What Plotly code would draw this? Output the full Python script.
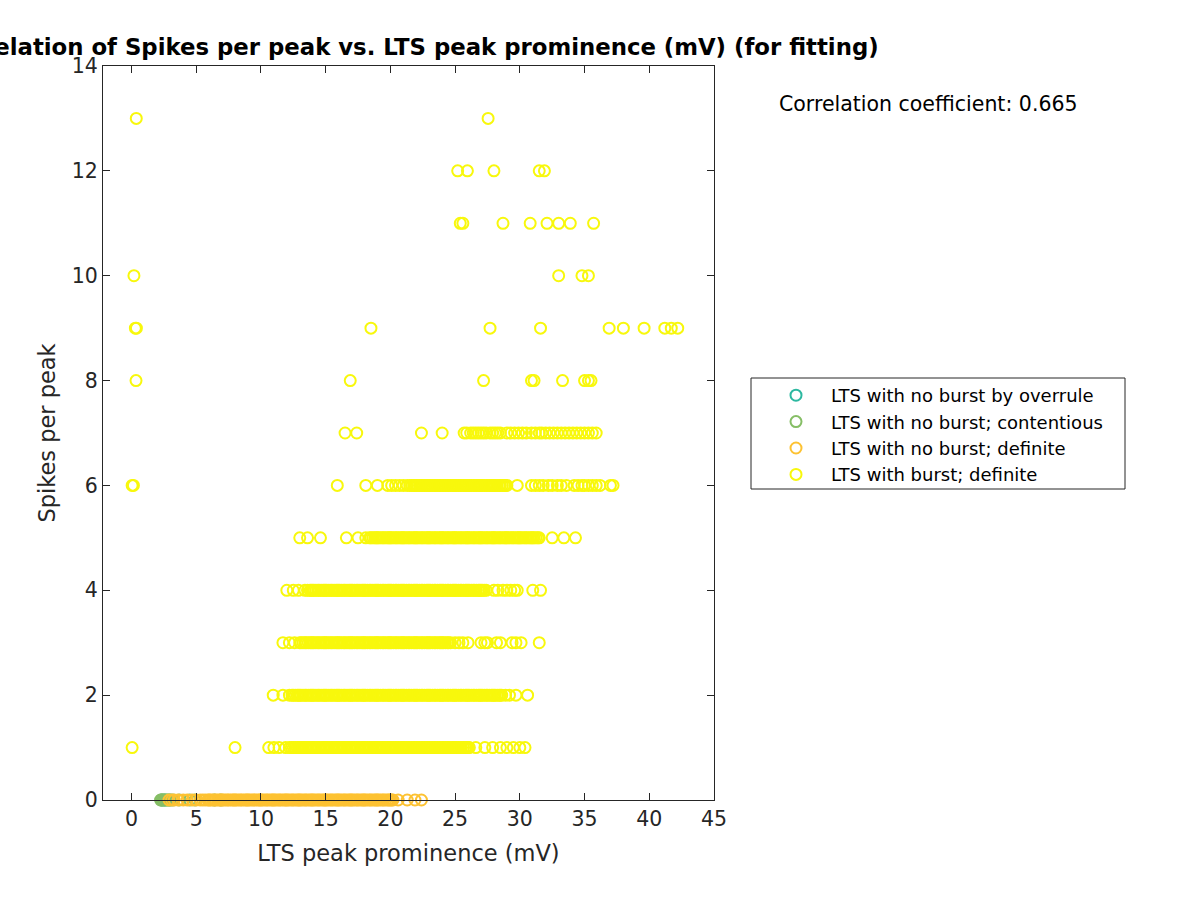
import plotly.graph_objects as go

# ---------------- data ----------------
# LTS with no burst by overrule (all at 0 spikes per peak)
overrule_x = [2.35, 2.55, 3.0]
# LTS with no burst; contentious (0 spikes per peak)
contentious_x = [2.25, 2.3, 2.4, 2.5, 2.6, 2.7, 2.8, 2.9, 3.2, 3.7, 4.5, 4.9, 6.4, 6.9]
# LTS with no burst; definite (0 spikes per peak)
nodef_x = [2.9, 3.1, 3.3, 3.6, 4.0, 4.3, 4.7, 5.0, 5.3, 5.5, 5.7, 5.9, 6.0, 6.1, 6.25, 6.4, 6.5, 6.65, 6.8, 6.9,
           7.0, 7.1, 7.25, 7.4, 7.5, 7.65, 7.8, 7.9, 8.0, 8.1, 8.25, 8.4, 8.5, 8.65, 8.8, 8.9,
           9.0, 9.1, 9.25, 9.4, 9.5, 9.65, 9.8, 9.9, 10.0, 10.1, 10.25, 10.4, 10.5, 10.65, 10.8, 10.9,
           11.0, 11.1, 11.25, 11.4, 11.5, 11.65, 11.8, 11.9, 12.0, 12.1, 12.25, 12.4, 12.5, 12.65, 12.8, 12.9,
           13.0, 13.1, 13.25, 13.4, 13.5, 13.65, 13.8, 13.9, 14.0, 14.1, 14.25, 14.4, 14.5, 14.65, 14.8, 14.9,
           15.0, 15.1, 15.25, 15.4, 15.5, 15.65, 15.8, 15.9, 16.0, 16.1, 16.25, 16.4, 16.5, 16.65, 16.8, 16.9,
           17.0, 17.1, 17.25, 17.4, 17.5, 17.65, 17.8, 17.9, 18.0, 18.1, 18.25, 18.4, 18.5, 18.65, 18.8, 18.9,
           19.0, 19.1, 19.25, 19.4, 19.5, 19.65, 19.8, 19.9, 20.0, 20.1, 20.2, 20.6, 21.3, 21.9, 22.4]

# LTS with burst; definite -- prominence values for each spikes-per-peak level
burst_x_1 = [0.05, 8.0, 10.6, 11.0, 11.4, 11.9, 12.2, 12.35, 12.5, 12.65, 12.8, 12.9,
             13.0, 13.1, 13.25, 13.4, 13.5, 13.65, 13.8, 13.9, 14.0, 14.1, 14.25, 14.4, 14.5, 14.65, 14.8, 14.9,
             15.0, 15.1, 15.25, 15.4, 15.5, 15.65, 15.8, 15.9, 16.0, 16.1, 16.25, 16.4, 16.5, 16.65, 16.8, 16.9,
             17.0, 17.1, 17.25, 17.4, 17.5, 17.65, 17.8, 17.9, 18.0, 18.1, 18.25, 18.4, 18.5, 18.65, 18.8, 18.9,
             19.0, 19.1, 19.25, 19.4, 19.5, 19.65, 19.8, 19.9, 20.0, 20.1, 20.25, 20.4, 20.5, 20.65, 20.8, 20.9,
             21.0, 21.1, 21.25, 21.4, 21.5, 21.65, 21.8, 21.9, 22.0, 22.1, 22.25, 22.4, 22.5, 22.65, 22.8, 22.9,
             23.0, 23.1, 23.25, 23.4, 23.5, 23.65, 23.8, 23.9, 24.0, 24.1, 24.25, 24.4, 24.5, 24.65, 24.8, 24.9,
             25.0, 25.1, 25.25, 25.4, 25.5, 25.65, 25.8, 25.9, 26.0, 26.1,
             26.6, 27.3, 27.9, 28.5, 29.0, 29.5, 30.0, 30.4]
burst_x_2 = [10.95, 11.7, 12.2, 12.4, 12.5, 12.65, 12.8, 12.9,
             13.0, 13.1, 13.25, 13.4, 13.5, 13.65, 13.8, 13.9, 14.0, 14.1, 14.25, 14.4, 14.5, 14.65, 14.8, 14.9,
             15.0, 15.1, 15.25, 15.4, 15.5, 15.65, 15.8, 15.9, 16.0, 16.1, 16.25, 16.4, 16.5, 16.65, 16.8, 16.9,
             17.0, 17.1, 17.25, 17.4, 17.5, 17.65, 17.8, 17.9, 18.0, 18.1, 18.25, 18.4, 18.5, 18.65, 18.8, 18.9,
             19.0, 19.1, 19.25, 19.4, 19.5, 19.65, 19.8, 19.9, 20.0, 20.1, 20.25, 20.4, 20.5, 20.65, 20.8, 20.9,
             21.0, 21.1, 21.25, 21.4, 21.5, 21.65, 21.8, 21.9, 22.0, 22.1, 22.25, 22.4, 22.5, 22.65, 22.8, 22.9,
             23.0, 23.1, 23.25, 23.4, 23.5, 23.65, 23.8, 23.9, 24.0, 24.1, 24.25, 24.4, 24.5, 24.65, 24.8, 24.9,
             25.0, 25.1, 25.25, 25.4, 25.5, 25.65, 25.8, 25.9, 26.0, 26.1, 26.25, 26.4, 26.5, 26.65, 26.8, 26.9,
             27.0, 27.1, 27.25, 27.4, 27.5, 27.65, 27.8, 27.9, 28.0, 28.1, 28.25, 28.4, 28.5, 28.6,
             28.9, 29.2, 29.7, 30.6]
burst_x_3 = [11.7, 12.2, 12.6, 13.0, 13.1, 13.25, 13.4, 13.5, 13.65, 13.8, 13.9,
             14.0, 14.1, 14.25, 14.4, 14.5, 14.65, 14.8, 14.9, 15.0, 15.1, 15.25, 15.4, 15.5, 15.65, 15.8, 15.9,
             16.0, 16.1, 16.25, 16.4, 16.5, 16.65, 16.8, 16.9, 17.0, 17.1, 17.25, 17.4, 17.5, 17.65, 17.8, 17.9,
             18.0, 18.1, 18.25, 18.4, 18.5, 18.65, 18.8, 18.9, 19.0, 19.1, 19.25, 19.4, 19.5, 19.65, 19.8, 19.9,
             20.0, 20.1, 20.25, 20.4, 20.5, 20.65, 20.8, 20.9, 21.0, 21.1, 21.25, 21.4, 21.5, 21.65, 21.8, 21.9,
             22.0, 22.1, 22.25, 22.4, 22.5, 22.65, 22.8, 22.9, 23.0, 23.1, 23.25, 23.4, 23.5, 23.65, 23.8, 23.9,
             24.0, 24.1, 24.25, 24.4, 24.5, 24.65, 25.0, 25.3, 25.6, 26.0, 27.0, 27.3, 27.5, 28.2, 28.5,
             29.4, 29.7, 30.1, 31.5]
burst_x_4 = [12.0, 12.5, 12.9, 13.4, 13.6, 13.8, 13.9,
             14.0, 14.1, 14.25, 14.4, 14.5, 14.65, 14.8, 14.9, 15.0, 15.1, 15.25, 15.4, 15.5, 15.65, 15.8, 15.9,
             16.0, 16.1, 16.25, 16.4, 16.5, 16.65, 16.8, 16.9, 17.0, 17.1, 17.25, 17.4, 17.5, 17.65, 17.8, 17.9,
             18.0, 18.1, 18.25, 18.4, 18.5, 18.65, 18.8, 18.9, 19.0, 19.1, 19.25, 19.4, 19.5, 19.65, 19.8, 19.9,
             20.0, 20.1, 20.25, 20.4, 20.5, 20.65, 20.8, 20.9, 21.0, 21.1, 21.25, 21.4, 21.5, 21.65, 21.8, 21.9,
             22.0, 22.1, 22.25, 22.4, 22.5, 22.65, 22.8, 22.9, 23.0, 23.1, 23.25, 23.4, 23.5, 23.65, 23.8, 23.9,
             24.0, 24.1, 24.25, 24.4, 24.5, 24.65, 24.8, 24.9, 25.0, 25.1, 25.25, 25.4, 25.5, 25.65, 25.8, 25.9,
             26.0, 26.1, 26.25, 26.4, 26.5, 26.65, 26.8, 26.9, 27.0, 27.1, 27.25, 27.4,
             28.0, 28.3, 28.7, 29.0, 29.3, 29.6, 29.8, 31.0, 31.6]
burst_x_5 = [13.0, 13.6, 14.6, 16.6, 17.5, 18.1, 18.4, 18.5, 18.65, 18.8, 18.9,
             19.0, 19.1, 19.25, 19.4, 19.5, 19.65, 19.8, 19.9, 20.0, 20.1, 20.25, 20.4, 20.5, 20.65, 20.8, 20.9,
             21.0, 21.1, 21.25, 21.4, 21.5, 21.65, 21.8, 21.9, 22.0, 22.1, 22.25, 22.4, 22.5, 22.65, 22.8, 22.9,
             23.0, 23.1, 23.25, 23.4, 23.5, 23.65, 23.8, 23.9, 24.0, 24.1, 24.25, 24.4, 24.5, 24.65, 24.8, 24.9,
             25.0, 25.1, 25.25, 25.4, 25.5, 25.65, 25.8, 25.9, 26.0, 26.1, 26.25, 26.4, 26.5, 26.65, 26.8, 26.9,
             27.0, 27.1, 27.25, 27.4, 27.5, 27.65, 27.8, 27.9, 28.0, 28.1, 28.25, 28.4, 28.5, 28.65, 28.8, 28.9,
             29.0, 29.1, 29.25, 29.4, 29.5, 29.65, 29.8, 29.9, 30.0, 30.1, 30.25, 30.4, 30.5, 30.65, 30.8, 30.9,
             31.0, 31.1, 31.25, 31.4, 31.5, 32.5, 33.4, 34.3]
burst_x_6 = [0.05, 0.15, 15.9, 18.1, 19.0, 19.8, 20.1, 20.4, 20.7, 21.0, 21.3, 21.5, 21.65, 21.8, 21.9,
             22.0, 22.1, 22.25, 22.4, 22.5, 22.65, 22.8, 22.9, 23.0, 23.1, 23.25, 23.4, 23.5, 23.65, 23.8, 23.9,
             24.0, 24.1, 24.25, 24.4, 24.5, 24.65, 24.8, 24.9, 25.0, 25.1, 25.25, 25.4, 25.5, 25.65, 25.8, 25.9,
             26.0, 26.1, 26.25, 26.4, 26.5, 26.65, 26.8, 26.9, 27.0, 27.1, 27.25, 27.4, 27.5, 27.65, 27.8, 27.9,
             28.0, 28.1, 28.25, 28.4, 28.5, 28.65, 28.8, 28.9, 29.0, 29.8, 30.9, 31.2, 31.5, 31.8, 32.2, 32.5,
             32.9, 33.2, 33.6, 34.2, 34.5, 34.8, 35.0, 35.3, 35.6, 35.9, 36.2, 37.0, 37.2]
burst_x_7 = [16.5, 17.4, 22.4, 24.0, 25.7, 25.9, 26.2, 26.4, 26.6, 26.8, 27.0, 27.2, 27.4, 27.7, 27.9, 28.1,
             28.3, 28.5, 29.0, 29.3, 29.6, 29.9, 30.2, 30.5, 30.9, 31.2, 31.5, 31.7, 32.0, 32.3, 32.6, 32.9,
             33.2, 33.5, 33.8, 34.1, 34.4, 34.7, 35.0, 35.3, 35.6, 35.9]
burst_x_8 = [0.35, 16.9, 27.2, 30.9, 31.1, 33.3, 35.0, 35.3, 35.5]
burst_x_9 = [0.3, 0.38, 18.5, 27.7, 31.6, 36.9, 38.0, 39.6, 41.2, 41.7, 42.2]
burst_x_10 = [0.19, 33.0, 34.8, 35.3]
burst_x_11 = [25.4, 25.6, 28.7, 30.8, 32.1, 33.0, 33.9, 35.7]
burst_x_12 = [25.2, 25.95, 28.0, 31.5, 31.9]
burst_x_13 = [0.37, 27.55]

burst_levels = [1, 2, 3, 4, 5, 6, 7, 8, 9, 10, 11, 12, 13]
burst_rows = [burst_x_1, burst_x_2, burst_x_3, burst_x_4, burst_x_5, burst_x_6, burst_x_7,
              burst_x_8, burst_x_9, burst_x_10, burst_x_11, burst_x_12, burst_x_13]

x_ticks = [0, 5, 10, 15, 20, 25, 30, 35, 40, 45]
y_ticks = [0, 2, 4, 6, 8, 10, 12, 14]
corr_coef = 0.665

# ---------------- build traces ----------------
burst_x, burst_y = [], []
for lvl, row in zip(burst_levels, burst_rows):
    burst_x += row
    burst_y += [lvl] * len(row)

FONT = "DejaVu Sans"
AX = "#262626"

def mk(name, xs, ys, color):
    return go.Scatter(
        x=xs, y=ys, mode="markers", name=name, cliponaxis=False,
        marker=dict(symbol="circle-open", size=11, color=color, line=dict(width=2)),
    )

fig = go.Figure()
fig.add_trace(mk("LTS with no burst by overrule", overrule_x, [0] * len(overrule_x), "#2DB8A0"))
fig.add_trace(mk("LTS with no burst; contentious", contentious_x, [0] * len(contentious_x), "#86BE66"))
fig.add_trace(mk("LTS with no burst; definite", nodef_x, [0] * len(nodef_x), "#FDC232"))
fig.add_trace(mk("LTS with burst; definite", burst_x, burst_y, "#F8F80C"))

axis_common = dict(
    showgrid=False, zeroline=False, showline=True, linecolor=AX, linewidth=1,
    mirror="ticks", ticks="inside", ticklen=7, tickwidth=1, tickcolor=AX,
    tickfont=dict(family=FONT, size=20.5, color=AX),
)

fig.update_layout(
    width=1200, height=900,
    margin=dict(l=103, r=486, t=66, b=100),
    paper_bgcolor="white", plot_bgcolor="white",
    title=dict(
        text="Correlation of Spikes per peak vs. LTS peak prominence (mV) (for fitting)",
        font=dict(family=FONT, size=22.8, color="black", weight="bold"),
        xref="container", yref="container", x=409 / 1200, y=1 - 47 / 900,
        xanchor="center", yanchor="middle",
    ),
    xaxis=dict(range=[-2.2, 45], tickvals=x_ticks, ticktext=[str(v) for v in x_ticks],
               title=dict(text="LTS peak prominence (mV)", font=dict(family=FONT, size=22.5, color=AX)),
               **axis_common),
    yaxis=dict(range=[0, 14], tickvals=y_ticks, ticktext=[str(v) for v in y_ticks],
               title=dict(text="Spikes per peak", font=dict(family=FONT, size=22.5, color=AX), standoff=9),
               **axis_common),
    legend=dict(
        x=(761 - 103) / 611, y=(800 - 377) / 734, xanchor="left", yanchor="top",
        font=dict(family=FONT, size=18, color="black"),
        bgcolor="rgba(0,0,0,0)", borderwidth=0, itemwidth=60, traceorder="normal",
    ),
    showlegend=True,
)

# legend frame
fig.add_shape(type="rect", xref="paper", yref="paper",
              x0=(751 - 103) / 611, x1=(1125 - 103) / 611,
              y0=(800 - 489) / 734, y1=(800 - 378) / 734,
              line=dict(color=AX, width=1), fillcolor="rgba(0,0,0,0)")

fig.add_annotation(
    text=f"Correlation coefficient: {corr_coef:.3f}", xref="paper", yref="paper",
    x=(928 - 103) / 611, y=(800 - 104) / 734, xanchor="center", yanchor="middle",
    showarrow=False, font=dict(family=FONT, size=20.5, color="black"),
)

fig.write_html("out.html")
